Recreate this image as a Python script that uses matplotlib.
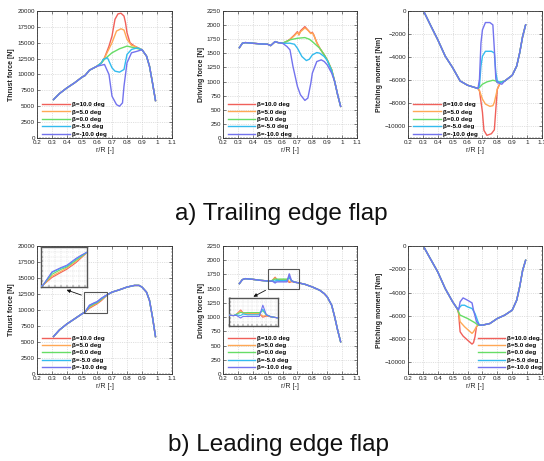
import numpy as np
import matplotlib
matplotlib.use("Agg")
import matplotlib.pyplot as plt
from matplotlib.patches import Rectangle, FancyArrowPatch
from matplotlib.ticker import MultipleLocator

plt.rcParams["font.family"] = ["Liberation Sans", "DejaVu Sans"]

W, H = 544, 461
BETAS = ["β=10.0 deg", "β=5.0 deg", "β=0.0 deg", "β=-5.0 deg", "β=-10.0 deg"]
COLORS = ["#f0605a", "#ffa855", "#66dd66", "#33bbee", "#7373ee"]

# ---- a) trailing edge flap : thrust force ----
ta_thr_left_x = [0.31, 0.35, 0.40, 0.45, 0.50, 0.52, 0.55, 0.60, 0.63]
ta_thr_left_y = [6050, 7000, 7900, 8680, 9580, 9840, 10680, 11300, 11840]
ta_thr_tail_x = [0.90, 0.93, 0.95, 0.97, 0.99]
ta_thr_tail_y = [13900, 12900, 11300, 8680, 5900]
ta_thr_mid_x = [
    [0.65, 0.68, 0.70, 0.72, 0.74, 0.76, 0.78, 0.79, 0.80, 0.82, 0.85],
    [0.65, 0.70, 0.73, 0.76, 0.78, 0.80, 0.83, 0.85],
    [0.65, 0.70, 0.75, 0.80, 0.85],
    [0.64, 0.67, 0.70, 0.72, 0.75, 0.78, 0.80, 0.83, 0.87],
    [0.65, 0.68, 0.70, 0.73, 0.75, 0.77, 0.78, 0.80, 0.83, 0.87],
]
ta_thr_mid_y = [
    [12630, 14470, 16050, 18700, 19550, 19650, 19200, 18160, 16580, 15000, 14470],
    [12600, 15000, 16840, 17200, 17000, 15530, 14580, 14470],
    [12400, 13420, 14050, 14470, 14200],
    [12370, 12630, 11050, 10530, 10370, 10790, 13160, 13950, 14200],
    [11580, 10000, 6580, 5260, 5000, 5530, 8160, 11840, 13420, 13680],
]

# ---- a) trailing edge flap : driving force ----
ta_drv_left_x = [0.31, 0.33, 0.35, 0.40, 0.45, 0.50, 0.52, 0.55, 0.57, 0.60]
ta_drv_left_y = [1600, 1679, 1690, 1679, 1667, 1661, 1637, 1708, 1690, 1679]
ta_drv_tail_x = [0.95, 0.97, 0.99]
ta_drv_tail_y = [1001, 766, 560]
ta_drv_mid_x = [
    [0.63, 0.65, 0.68, 0.70, 0.71, 0.72, 0.75, 0.77, 0.79, 0.80, 0.81, 0.83, 0.85, 0.88, 0.90, 0.93],
    [0.63, 0.65, 0.68, 0.70, 0.71, 0.72, 0.75, 0.77, 0.79, 0.80, 0.81, 0.83, 0.85, 0.88, 0.90, 0.93],
    [0.65, 0.70, 0.75, 0.78, 0.80, 0.85, 0.88, 0.90, 0.93],
    [0.65, 0.68, 0.70, 0.73, 0.76, 0.78, 0.80, 0.83, 0.85, 0.88, 0.90, 0.93],
    [0.63, 0.65, 0.67, 0.70, 0.72, 0.75, 0.77, 0.79, 0.80, 0.83, 0.86, 0.88, 0.90, 0.93],
]
ta_drv_mid_y = [
    [1715, 1750, 1826, 1885, 1826, 1897, 1973, 1914, 1855, 1873, 1826, 1690, 1590, 1472, 1384, 1208],
    [1710, 1745, 1815, 1870, 1830, 1880, 1950, 1910, 1850, 1860, 1820, 1690, 1590, 1472, 1384, 1208],
    [1740, 1767, 1779, 1750, 1708, 1590, 1472, 1384, 1208],
    [1679, 1661, 1590, 1443, 1372, 1396, 1472, 1514, 1502, 1443, 1372, 1190],
    [1620, 1561, 1266, 913, 766, 666, 707, 972, 1149, 1355, 1384, 1355, 1296, 1149],
]

# ---- a) trailing edge flap : pitching moment ----
ta_pm_left_x = [0.31, 0.35, 0.40, 0.45, 0.50, 0.55, 0.60, 0.65, 0.67]
ta_pm_left_y = [-143, -1200, -2490, -3910, -4910, -6060, -6430, -6630, -6710]
ta_pm_tail_x = [0.85, 0.90, 0.93, 0.95, 0.97, 0.99]
ta_pm_tail_y = [-6060, -5570, -4770, -3630, -2200, -1200]
ta_pm_mid_x = [
    [0.68, 0.70, 0.71, 0.73, 0.76, 0.78, 0.79, 0.80, 0.82],
    [0.68, 0.70, 0.72, 0.75, 0.77, 0.78, 0.80, 0.82],
    [0.68, 0.70, 0.73, 0.77, 0.79, 0.80, 0.82],
    [0.68, 0.69, 0.70, 0.72, 0.76, 0.78, 0.79, 0.80, 0.82],
    [0.68, 0.69, 0.70, 0.72, 0.75, 0.77, 0.78, 0.79, 0.80, 0.83],
]
ta_pm_mid_y = [
    [-6910, -8770, -10340, -10770, -10630, -10290, -8490, -6770, -6200],
    [-6910, -7630, -8060, -8260, -8200, -7910, -6770, -6200],
    [-6630, -6340, -6140, -6000, -6060, -6200, -6140],
    [-6490, -4770, -3910, -3490, -3490, -3630, -5340, -6060, -6200],
    [-5910, -2770, -1630, -1000, -1000, -1200, -3340, -5910, -6200, -6340],
]

# ---- b) leading edge flap : thrust force ----
lb_thr_left_x = [0.31, 0.35, 0.40, 0.45, 0.50, 0.52]
lb_thr_left_y = [5850, 6890, 7830, 8610, 9400, 9660]
lb_thr_mid_x = [0.55, 0.58, 0.60, 0.63, 0.65]
lb_thr_mid_y = [
    [10290, 10700, 10970, 11500, 11950],
    [10400, 10800, 11080, 11600, 12000],
    [10550, 10950, 11150, 11700, 12050],
    [10700, 11050, 11230, 11800, 12100],
    [10750, 11100, 11300, 11850, 12150],
]
lb_thr_tail_x = [0.67, 0.70, 0.75, 0.80, 0.85, 0.88, 0.90, 0.93, 0.95, 0.97, 0.99]
lb_thr_tail_y = [12400, 12790, 13160, 13580, 13840, 13840, 13580, 12790, 11490, 8880, 5850]

# ---- b) leading edge flap : driving force ----
lb_drv_left_x = [0.31, 0.33, 0.35, 0.40, 0.45, 0.50, 0.52]
lb_drv_left_y = [1589, 1659, 1676, 1664, 1647, 1635, 1630]
lb_drv_mid_x = [0.53, 0.55, 0.56, 0.58, 0.63, 0.645, 0.66, 0.68]
lb_drv_mid_y = [
    [1640, 1700, 1665, 1650, 1650, 1610, 1625, 1615],
    [1640, 1690, 1660, 1655, 1655, 1625, 1630, 1615],
    [1645, 1670, 1665, 1668, 1668, 1690, 1640, 1615],
    [1640, 1630, 1650, 1640, 1640, 1710, 1640, 1615],
    [1635, 1600, 1620, 1620, 1620, 1760, 1640, 1615],
]
lb_drv_tail_x = [0.70, 0.75, 0.80, 0.85, 0.88, 0.90, 0.93, 0.95, 0.97, 0.99]
lb_drv_tail_y = [1606, 1577, 1530, 1472, 1413, 1355, 1209, 1005, 771, 567]

# ---- b) leading edge flap : pitching moment ----
lb_pm_left_x = [0.31, 0.35, 0.40, 0.45, 0.50, 0.53]
lb_pm_left_y = [-170, -1090, -2230, -3660, -4800, -5370]
lb_pm_mid_x = [
    [0.54, 0.55, 0.57, 0.60, 0.63, 0.64, 0.65, 0.66, 0.67],
    [0.54, 0.55, 0.58, 0.60, 0.63, 0.64, 0.66, 0.67],
    [0.54, 0.55, 0.60, 0.65, 0.67],
    [0.54, 0.56, 0.58, 0.60, 0.63, 0.65, 0.67, 0.68],
    [0.54, 0.55, 0.57, 0.60, 0.63, 0.64, 0.66, 0.68],
]
lb_pm_mid_y = [
    [-5800, -7370, -7740, -8090, -8430, -8310, -7800, -6940, -6800],
    [-5660, -6510, -6940, -7170, -7510, -7370, -6940, -6800],
    [-5700, -5940, -6230, -6600, -6800],
    [-5370, -5090, -5090, -5230, -5370, -5800, -6510, -6800],
    [-5510, -4800, -4460, -4660, -4890, -5510, -6510, -6800],
]
lb_pm_tail_x = [0.70, 0.75, 0.80, 0.85, 0.90, 0.93, 0.95, 0.97, 0.99]
lb_pm_tail_y = [-6800, -6660, -6230, -5940, -5510, -4660, -3510, -2090, -1230]


def series(lx, ly, mx, my, tx, ty):
    return np.concatenate([lx, mx, tx]), np.concatenate([ly, my, ty])


def build(lx, ly, mxs, mys, tx, ty, cut_blue=None):
    out = []
    for k in range(5):
        mx = mxs[k] if isinstance(mxs[0], list) else mxs
        llx, lly = lx, ly
        if k == 4 and cut_blue is not None:
            llx, lly = lx[:cut_blue], ly[:cut_blue]
        out.append(series(llx, lly, mx, mys[k], tx, ty))
    return out


curves = {
    "ta_thr": build(ta_thr_left_x, ta_thr_left_y, ta_thr_mid_x, ta_thr_mid_y, ta_thr_tail_x, ta_thr_tail_y, cut_blue=8),
    "ta_drv": build(ta_drv_left_x, ta_drv_left_y, ta_drv_mid_x, ta_drv_mid_y, ta_drv_tail_x, ta_drv_tail_y),
    "ta_pm": build(ta_pm_left_x, ta_pm_left_y, ta_pm_mid_x, ta_pm_mid_y, ta_pm_tail_x, ta_pm_tail_y),
    "lb_thr": build(lb_thr_left_x, lb_thr_left_y, lb_thr_mid_x, lb_thr_mid_y, lb_thr_tail_x, lb_thr_tail_y),
    "lb_drv": build(lb_drv_left_x, lb_drv_left_y, lb_drv_mid_x, lb_drv_mid_y, lb_drv_tail_x, lb_drv_tail_y),
    "lb_pm": build(lb_pm_left_x, lb_pm_left_y, lb_pm_mid_x, lb_pm_mid_y, lb_pm_tail_x, lb_pm_tail_y),
}


def px_rect(x0, y0, x1, y1):
    return [x0 / W, 1 - y1 / H, (x1 - x0) / W, (y1 - y0) / H]


FS = 4.5
TXT = "#222222"

fig = plt.figure(figsize=(W / 100, H / 100), dpi=100)

panels = [
    ("ta_thr", (37, 11, 172, 138), (0, 20000), 2500, "Thrust force [N]", (0.03, 0.0)),
    ("ta_drv", (223, 11, 357, 138), (0, 2250), 250, "Driving force [N]", (0.025, 0.0)),
    ("ta_pm", (408, 11, 542, 138), (-11000, 0), 2000, "Pitching moment [Nm]", (0.03, 0.0)),
    ("lb_thr", (37, 246, 172, 374), (0, 20000), 2500, "Thrust force [N]", (0.03, 0.02)),
    ("lb_drv", (223, 246, 357, 374), (0, 2250), 250, "Driving force [N]", (0.025, 0.02)),
    ("lb_pm", (408, 246, 542, 374), (-11000, 0), 2000, "Pitching moment [Nm]", (0.51, 0.02)),
]

axes = {}
for key, box, ylim, ystep, ylabel, leg_xy in panels:
    ax = fig.add_axes(px_rect(*box))
    axes[key] = ax
    for k, (x, y) in enumerate(curves[key]):
        ax.plot(x, y, color=COLORS[k], lw=1.0, label=BETAS[k], zorder=3 + k * 0.1)
    ax.set_xlim(0.2, 1.1)
    ax.set_ylim(*ylim)
    ax.xaxis.set_minor_locator(MultipleLocator(0.02))
    ax.yaxis.set_major_locator(MultipleLocator(ystep))
    ax.yaxis.set_minor_locator(MultipleLocator(ystep / 5))
    ax.set_xticks(np.arange(0.2, 1.11, 0.1))
    ax.set_xticklabels(["0.2", "0.3", "0.4", "0.5", "0.6", "0.7", "0.8", "0.9", "1", "1.1"])
    ax.tick_params(which="both", direction="in", labelsize=FS, colors=TXT, pad=1.5,
                   top=True, right=True)
    ax.tick_params(which="major", length=2.0, width=0.4)
    ax.tick_params(which="minor", length=1.0, width=0.3)
    ax.grid(True, which="major", color="#c8c8c8", lw=0.4, ls=(0, (2, 2)))
    for s in ax.spines.values():
        s.set_linewidth(0.6)
        s.set_color("#333333")
    ax.set_xlabel("r/R [-]", fontsize=FS + 0.5, color=TXT, labelpad=1.5)
    ax.set_ylabel(ylabel, fontsize=FS + 0.5, fontweight="bold", color=TXT, labelpad=1.5)
    ax.legend(loc="lower left", bbox_to_anchor=leg_xy, frameon=False,
              prop={"weight": "bold", "size": FS}, handlelength=4.4, handletextpad=0.3,
              labelspacing=0.32, borderpad=0.2, borderaxespad=0.0)

for ax in (axes["ta_pm"], axes["lb_pm"]):
    ax.set_yticks(np.arange(-10000, 1, 2000))


def add_inset(key, box_data, inset_px, arrow_tail_px, arrow_head_px, xstep, ystep):
    ax = axes[key]
    (x0, x1), (y0, y1) = box_data
    ax.add_patch(Rectangle((x0, y0), x1 - x0, y1 - y0, fill=False, ec="#555555", lw=0.8, zorder=6))
    ins = fig.add_axes(px_rect(*inset_px))
    for k, (x, y) in enumerate(curves[key]):
        ins.plot(x, y, color=COLORS[k], lw=0.8, zorder=3 + k * 0.1)
    ins.set_xlim(x0, x1)
    ins.set_ylim(y0, y1)
    ins.xaxis.set_major_locator(MultipleLocator(xstep))
    ins.yaxis.set_major_locator(MultipleLocator(ystep))
    ins.tick_params(labelleft=False, labelbottom=False, length=1.2, width=0.3, direction="in")
    ins.grid(True, color="#d0d0d0", lw=0.35, ls=(0, (2, 2)))
    for s in ins.spines.values():
        s.set_linewidth(1.0)
        s.set_color("#555555")
    tx, ty = arrow_tail_px
    hx, hy = arrow_head_px
    fig.add_artist(FancyArrowPatch((tx / W, 1 - ty / H), (hx / W, 1 - hy / H),
                                   transform=fig.transFigure, arrowstyle="-|>",
                                   mutation_scale=5, lw=0.6, color="#111111"))


add_inset("lb_thr", ((0.513, 0.667), (9500, 12790)), (41, 247, 87, 287), (84, 296), (64, 289), 0.02, 400)
add_inset("lb_drv", ((0.50, 0.71), (1500, 1850)), (229, 298, 278, 326), (268, 289), (251, 298), 0.02, 50)

fig.text(0.518, 1 - 220 / H, "a) Trailing edge flap", ha="center", va="baseline", fontsize=17.5, color="#111111")
fig.text(0.512, 1 - 451 / H, "b) Leading edge flap", ha="center", va="baseline", fontsize=17.5, color="#111111")

fig.savefig("out.png", dpi=100)
